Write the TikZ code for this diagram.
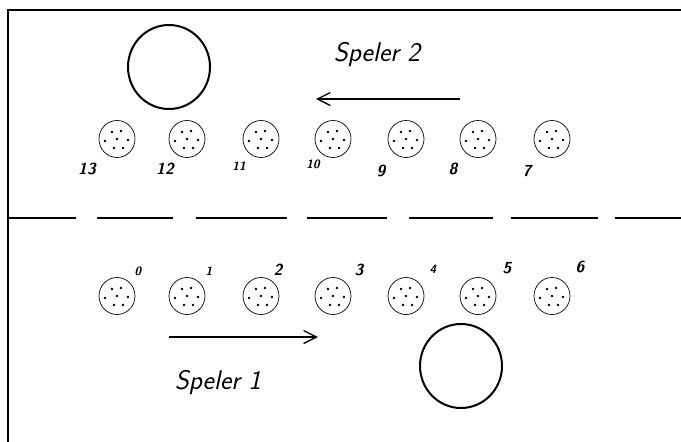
\documentclass[tikz,border=0pt]{standalone}
\usetikzlibrary{arrows.meta,shapes.geometric}
\begin{document}
\begin{tikzpicture}[x=1pt,y=-1pt,
  pit/.style={draw,line width=0.7pt,ellipse,minimum width=36pt,minimum height=37pt,inner sep=0pt},
  store/.style={draw,line width=2pt,ellipse,minimum width=82pt,minimum height=84pt,inner sep=0pt},
  frame/.style={line width=1.4pt},
  divider/.style={line width=1.3pt},
  move/.style={line width=1.3pt,-{Straight Barb[length=13pt,width=13pt,line width=1.3pt]}},
  num/.style={font=\sffamily\itshape\bfseries\fontsize{16}{17}\selectfont,inner sep=0pt},
  smallnum/.style={font=\sffamily\itshape\bfseries\fontsize{12}{13}\selectfont,inner sep=0pt},
  player/.style={font=\sffamily\itshape\fontsize{27}{29}\selectfont,inner sep=0pt},
  seed/.style={fill,circle,inner sep=0pt,minimum size=2.8pt}]
\useasboundingbox (0,0) rectangle (681,442);
\fill[white] (0,0) rectangle (681,442);

% board outline
\draw[frame] (681,10) -- (8,10) -- (8,442);

% middle divider
\foreach \a/\b in {8/76, 97/173, 196/287, 307/387, 409/493, 511/598, 615/681}
  \draw[divider] (\a,218) -- (\b,218);

% stores
\node[store] (s2) at (169,67) {};
\node[store] (s1) at (461,366) {};

% pits with seeds
\newcommand{\seeds}[1]{%
  \foreach \dx/\dy in {-5/-7, 4/-8, -12/2, 0/0, 11/1, -3/9, 6/9}
    \node[seed] at ([shift={(\dx,\dy)}]#1.center) {};}

\foreach \i/\x in {13/117, 12/187, 11/261, 10/333, 9/406, 8/478, 7/552} {
  \node[pit] (p\i) at (\x,139) {};
  \seeds{p\i}
}
\foreach \i/\x in {0/117, 1/187, 2/261, 3/333, 4/406, 5/478, 6/552} {
  \node[pit] (p\i) at (\x,296) {};
  \seeds{p\i}
}

% pit numbers
\node[num] (n13) at (87,169) {13};
\node[num] (n12) at (165,169) {12};
\node[smallnum] (n11) at (239,166) {11};
\node[smallnum] (n10) at (313,164) {10};
\node[num] (n9) at (381,171) {9};
\node[num] (n8) at (453,169) {8};
\node[num] (n7) at (527,171) {7};

\node[smallnum] (n0) at (138,271) {0};
\node[smallnum] (n1) at (209,271) {1};
\node[num] (n2) at (278,270) {2};
\node[num] (n3) at (359,270) {3};
\node[smallnum] (n4) at (433,269) {4};
\node[num] (n5) at (507,268) {5};
\node[num] (n6) at (580,267) {6};

% players and direction of play
\node[player] (t2) at (377,55) {Speler 2};
\node[player] (t1) at (218,383) {Speler 1};

\coordinate (a2s) at (460,99);
\coordinate (a2e) at (316,99);
\coordinate (a1s) at (169,337);
\coordinate (a1e) at (318,337);
\draw[move] (a2s) -- (a2e);
\draw[move] (a1s) -- (a1e);
\end{tikzpicture}
\end{document}
